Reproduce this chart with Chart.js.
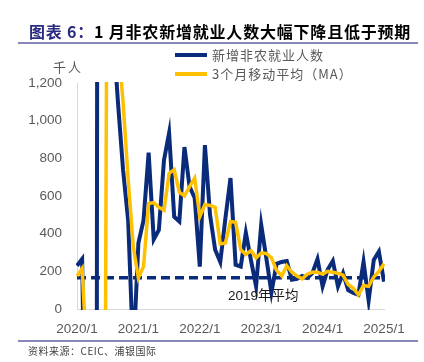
<!DOCTYPE html>
<html>
<head>
<meta charset="utf-8">
<script src="https://cdn.jsdelivr.net/npm/chart.js@4/dist/chart.umd.min.js"></script>
<style>
  body { margin: 0; background: #fff; }
  #wrap { position: relative; width: 424px; height: 362px; overflow: hidden; font-family: 'Liberation Sans', 'Noto Sans CJK SC', sans-serif; }
  #wrap canvas { position: absolute; left: 0; top: 0; }
  .abs { position: absolute; white-space: nowrap; }
  #title { left: 29px; top: 23px; font: bold 16px 'Noto Sans CJK SC', sans-serif; line-height: 17px; letter-spacing: 0.8px; color: #000; }
  #title span { color: #2b2b80; }
  .rule { position: absolute; left: 18px; width: 400px; height: 2px; background: #8787ba; }
  .legLine { position: absolute; left: 175px; width: 32px; height: 4px; }
  .legText { left: 212px; font-size: 13px; letter-spacing: 1px; color: #595959; line-height: 16px; font-family: 'Noto Sans CJK SC', sans-serif; }
  #unit { left: 53px; top: 59px; font-size: 13px; letter-spacing: 2px; color: #595959; line-height: 16px; font-family: 'Noto Sans CJK SC', sans-serif; }
  #source { left: 28px; top: 344px; font-size: 10px; color: #404040; line-height: 14px; font-family: 'Noto Sans CJK SC', sans-serif; letter-spacing: 0.5px; }
</style>
</head>
<body>
<div id="wrap">
  <canvas id="chart" width="424" height="362"></canvas>
  <div id="title" class="abs"><span>图表 6：</span>1 月非农新增就业人数大幅下降且低于预期</div>
  <div class="rule" style="top:42px"></div>
  <div class="legLine" style="top:53px;background:#0a2a7a"></div>
  <div class="abs legText" style="top:47px">新增非农就业人数</div>
  <div class="legLine" style="top:72px;background:#ffc000"></div>
  <div class="abs legText" style="top:66px">3个月移动平均（MA）</div>
  <div id="unit" class="abs">千人</div>
  <div class="rule" style="top:340px"></div>
  <div id="source" class="abs">资料来源：CEIC、浦银国际</div>
</div>
<script>
// months, 2020/1 - 2025/1
const months = [
  '2020/1','2020/2','2020/3','2020/4','2020/5','2020/6','2020/7','2020/8','2020/9','2020/10','2020/11','2020/12',
  '2021/1','2021/2','2021/3','2021/4','2021/5','2021/6','2021/7','2021/8','2021/9','2021/10','2021/11','2021/12',
  '2022/1','2022/2','2022/3','2022/4','2022/5','2022/6','2022/7','2022/8','2022/9','2022/10','2022/11','2022/12',
  '2023/1','2023/2','2023/3','2023/4','2023/5','2023/6','2023/7','2023/8','2023/9','2023/10','2023/11','2023/12',
  '2024/1','2024/2','2024/3','2024/4','2024/5','2024/6','2024/7','2024/8','2024/9','2024/10','2024/11','2024/12',
  '2025/1'
];

// 新增非农就业人数 (千人)
const payrolls = [
  230, 265, -1400, -20500, 2800, 4500, 1600, 1500, 1100, 740, 470, -250,
  350, 470, 830, 370, 420, 790, 935, 490, 465, 860, 650, 590,
  225, 870, 500, 315, 250, 480, 695, 235, 225, 405, 260, 120,
  447, 270, 88, 240, 250, 255, 155, 160, 175, 165, 190, 265,
  120, 210, 255, 120, 190, 100, 85, 75, 250, 45, 260, 305,
  145
];

// 3个月移动平均
const movingAvg = [
  175, 215, -300, -7000, -6200, -4200, 2970, 2530, 1420, 1100, 690, 330,
  165, 225, 560, 565, 540, 525, 720, 740, 620, 600, 650, 695,
  490, 555, 550, 540, 345, 350, 465, 460, 315, 290, 310, 272,
  297, 295, 272, 205, 175, 230, 195, 175, 160, 185, 195, 195,
  185, 200, 195, 190, 180, 130, 110, 75, 125, 120, 170, 200,
  240
];

const yTicks = [0, 200, 400, 600, 800, 1000, 1200];
const avg2019 = 166;
const avgLabel = '2019年平均';
const avgLabelAt = '2023/1';

const navy = '#0a2a7a';
const fontFamily = "'Liberation Sans', 'Noto Sans CJK SC', sans-serif";

// dashed 2019 average line + its label
const avgLinePlugin = {
  id: 'avgLine',
  beforeDatasetsDraw(chart) {
    const { ctx, chartArea, scales } = chart;
    const y = scales.y.getPixelForValue(avg2019);
    ctx.save();
    ctx.strokeStyle = navy;
    ctx.lineWidth = 3.5;
    ctx.setLineDash([9, 5]);
    ctx.beginPath();
    ctx.moveTo(chartArea.left, y);
    ctx.lineTo(chartArea.right, y);
    ctx.stroke();
    ctx.restore();
  },
  afterDatasetsDraw(chart) {
    const { ctx, scales } = chart;
    const x = scales.x.getPixelForValue(months.indexOf(avgLabelAt));
    const y = scales.y.getPixelForValue(avg2019);
    ctx.save();
    ctx.font = "13.5px " + fontFamily;
    ctx.fillStyle = '#1a1a1a';
    ctx.textAlign = 'center';
    ctx.textBaseline = 'middle';
    ctx.fillText(avgLabel, x + 2, y + 19);
    ctx.restore();
  }
};

Chart.defaults.font.family = fontFamily;
Chart.defaults.color = '#595959';

new Chart(document.getElementById('chart'), {
  type: 'line',
  data: {
    labels: months,
    datasets: [
      {
        label: '新增非农就业人数',
        data: payrolls,
        borderColor: navy,
        borderWidth: 4,
        pointRadius: 0,
        tension: 0,
        clip: 1,
        order: 1
      },
      {
        label: '3个月移动平均（MA）',
        data: movingAvg,
        borderColor: '#ffc000',
        borderWidth: 3.5,
        pointRadius: 0,
        tension: 0,
        clip: 1,
        order: 0
      }
    ]
  },
  options: {
    responsive: false,
    animation: false,
    layout: { padding: { left: 0, right: 40, top: 83, bottom: 23 } },
    plugins: {
      legend: { display: false },
      tooltip: { enabled: false }
    },
    scales: {
      x: {
        grid: { display: false, drawTicks: false },
        border: { display: true, color: '#d9d9d9', width: 1 },
        ticks: {
          autoSkip: false,
          maxRotation: 0,
          padding: 12,
          font: { size: 13.5 },
          color: '#595959',
          callback: function (value) {
            const lab = this.getLabelForValue(value);
            return lab.split('/')[1] === '1' ? lab : '';
          }
        },
        afterFit: s => { s.height = 30; }
      },
      y: {
        min: 0,
        max: 1200,
        grid: { display: false, drawTicks: false },
        border: { display: true, color: '#d9d9d9', width: 1 },
        afterBuildTicks: s => { s.ticks = yTicks.map(v => ({ value: v })); },
        ticks: {
          padding: 15,
          font: { size: 13.5 },
          color: '#595959',
          callback: v => v.toLocaleString('en-US')
        },
        afterFit: s => { s.width = 77; }
      }
    }
  },
  plugins: [avgLinePlugin]
});
</script>
</body>
</html>
